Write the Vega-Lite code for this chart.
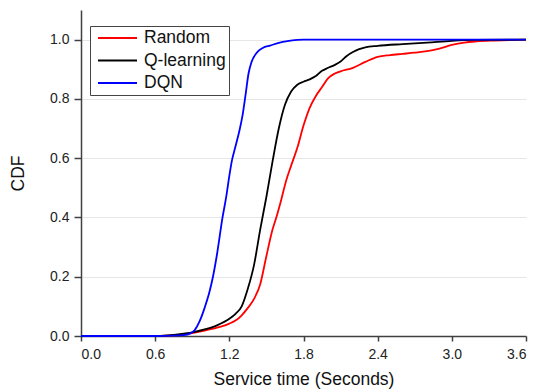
{
  "$schema": "https://vega.github.io/schema/vega-lite/v6.json",
  "autosize": {"type": "none"},
  "padding": {"left": 81, "top": 10, "right": 10, "bottom": 55},
  "width": 445,
  "height": 326,
  "background": "white",
  "config": {
    "view": {"stroke": null},
    "font": "Liberation Sans"
  },
  "data": {
    "values": [
      {"t": 0, "cdf": 0, "method": "Random"},
      {"t": 0.6, "cdf": 0, "method": "Random"},
      {"t": 0.7, "cdf": 0.001, "method": "Random"},
      {"t": 0.8, "cdf": 0.004, "method": "Random"},
      {"t": 0.9, "cdf": 0.01, "method": "Random"},
      {"t": 1.0, "cdf": 0.018, "method": "Random"},
      {"t": 1.1, "cdf": 0.028, "method": "Random"},
      {"t": 1.2, "cdf": 0.042, "method": "Random"},
      {"t": 1.25, "cdf": 0.052, "method": "Random"},
      {"t": 1.3, "cdf": 0.07, "method": "Random"},
      {"t": 1.35, "cdf": 0.095, "method": "Random"},
      {"t": 1.4, "cdf": 0.125, "method": "Random"},
      {"t": 1.45, "cdf": 0.175, "method": "Random"},
      {"t": 1.5, "cdf": 0.27, "method": "Random"},
      {"t": 1.55, "cdf": 0.36, "method": "Random"},
      {"t": 1.58, "cdf": 0.4, "method": "Random"},
      {"t": 1.62, "cdf": 0.46, "method": "Random"},
      {"t": 1.66, "cdf": 0.525, "method": "Random"},
      {"t": 1.7, "cdf": 0.575, "method": "Random"},
      {"t": 1.75, "cdf": 0.635, "method": "Random"},
      {"t": 1.8, "cdf": 0.71, "method": "Random"},
      {"t": 1.85, "cdf": 0.77, "method": "Random"},
      {"t": 1.9, "cdf": 0.81, "method": "Random"},
      {"t": 1.95, "cdf": 0.84, "method": "Random"},
      {"t": 2.0, "cdf": 0.87, "method": "Random"},
      {"t": 2.05, "cdf": 0.885, "method": "Random"},
      {"t": 2.1, "cdf": 0.893, "method": "Random"},
      {"t": 2.2, "cdf": 0.905, "method": "Random"},
      {"t": 2.3, "cdf": 0.925, "method": "Random"},
      {"t": 2.4, "cdf": 0.942, "method": "Random"},
      {"t": 2.5, "cdf": 0.948, "method": "Random"},
      {"t": 2.6, "cdf": 0.952, "method": "Random"},
      {"t": 2.7, "cdf": 0.956, "method": "Random"},
      {"t": 2.8, "cdf": 0.961, "method": "Random"},
      {"t": 2.9, "cdf": 0.97, "method": "Random"},
      {"t": 3.0, "cdf": 0.982, "method": "Random"},
      {"t": 3.1, "cdf": 0.99, "method": "Random"},
      {"t": 3.2, "cdf": 0.994, "method": "Random"},
      {"t": 3.35, "cdf": 0.997, "method": "Random"},
      {"t": 3.6, "cdf": 1.0, "method": "Random"},

      {"t": 0, "cdf": 0, "method": "Q-learning"},
      {"t": 0.6, "cdf": 0, "method": "Q-learning"},
      {"t": 0.7, "cdf": 0.002, "method": "Q-learning"},
      {"t": 0.8, "cdf": 0.006, "method": "Q-learning"},
      {"t": 0.9, "cdf": 0.012, "method": "Q-learning"},
      {"t": 1.0, "cdf": 0.022, "method": "Q-learning"},
      {"t": 1.1, "cdf": 0.036, "method": "Q-learning"},
      {"t": 1.2, "cdf": 0.058, "method": "Q-learning"},
      {"t": 1.25, "cdf": 0.075, "method": "Q-learning"},
      {"t": 1.3, "cdf": 0.1, "method": "Q-learning"},
      {"t": 1.35, "cdf": 0.16, "method": "Q-learning"},
      {"t": 1.4, "cdf": 0.24, "method": "Q-learning"},
      {"t": 1.45, "cdf": 0.36, "method": "Q-learning"},
      {"t": 1.5, "cdf": 0.47, "method": "Q-learning"},
      {"t": 1.55, "cdf": 0.59, "method": "Q-learning"},
      {"t": 1.6, "cdf": 0.7, "method": "Q-learning"},
      {"t": 1.65, "cdf": 0.78, "method": "Q-learning"},
      {"t": 1.7, "cdf": 0.825, "method": "Q-learning"},
      {"t": 1.75, "cdf": 0.848, "method": "Q-learning"},
      {"t": 1.8, "cdf": 0.858, "method": "Q-learning"},
      {"t": 1.85, "cdf": 0.866, "method": "Q-learning"},
      {"t": 1.9, "cdf": 0.877, "method": "Q-learning"},
      {"t": 1.95, "cdf": 0.895, "method": "Q-learning"},
      {"t": 2.0, "cdf": 0.905, "method": "Q-learning"},
      {"t": 2.05, "cdf": 0.914, "method": "Q-learning"},
      {"t": 2.1, "cdf": 0.926, "method": "Q-learning"},
      {"t": 2.15, "cdf": 0.945, "method": "Q-learning"},
      {"t": 2.2, "cdf": 0.958, "method": "Q-learning"},
      {"t": 2.25, "cdf": 0.968, "method": "Q-learning"},
      {"t": 2.3, "cdf": 0.974, "method": "Q-learning"},
      {"t": 2.4, "cdf": 0.979, "method": "Q-learning"},
      {"t": 2.6, "cdf": 0.985, "method": "Q-learning"},
      {"t": 2.8, "cdf": 0.99, "method": "Q-learning"},
      {"t": 3.0, "cdf": 0.996, "method": "Q-learning"},
      {"t": 3.2, "cdf": 0.999, "method": "Q-learning"},
      {"t": 3.6, "cdf": 1.0, "method": "Q-learning"},

      {"t": 0, "cdf": 0, "method": "DQN"},
      {"t": 0.6, "cdf": 0, "method": "DQN"},
      {"t": 0.75, "cdf": 0.001, "method": "DQN"},
      {"t": 0.83, "cdf": 0.003, "method": "DQN"},
      {"t": 0.88, "cdf": 0.008, "method": "DQN"},
      {"t": 0.92, "cdf": 0.02, "method": "DQN"},
      {"t": 0.96, "cdf": 0.05, "method": "DQN"},
      {"t": 1.0, "cdf": 0.095, "method": "DQN"},
      {"t": 1.04, "cdf": 0.15, "method": "DQN"},
      {"t": 1.07, "cdf": 0.205, "method": "DQN"},
      {"t": 1.1, "cdf": 0.275, "method": "DQN"},
      {"t": 1.145, "cdf": 0.4, "method": "DQN"},
      {"t": 1.175, "cdf": 0.47, "method": "DQN"},
      {"t": 1.2, "cdf": 0.54, "method": "DQN"},
      {"t": 1.22, "cdf": 0.59, "method": "DQN"},
      {"t": 1.25, "cdf": 0.64, "method": "DQN"},
      {"t": 1.28, "cdf": 0.69, "method": "DQN"},
      {"t": 1.305, "cdf": 0.74, "method": "DQN"},
      {"t": 1.33, "cdf": 0.81, "method": "DQN"},
      {"t": 1.355, "cdf": 0.885, "method": "DQN"},
      {"t": 1.38, "cdf": 0.925, "method": "DQN"},
      {"t": 1.42, "cdf": 0.955, "method": "DQN"},
      {"t": 1.47, "cdf": 0.972, "method": "DQN"},
      {"t": 1.53, "cdf": 0.98, "method": "DQN"},
      {"t": 1.6, "cdf": 0.989, "method": "DQN"},
      {"t": 1.67, "cdf": 0.995, "method": "DQN"},
      {"t": 1.75, "cdf": 0.999, "method": "DQN"},
      {"t": 1.8, "cdf": 1.0, "method": "DQN"},
      {"t": 3.6, "cdf": 1.0, "method": "DQN"}
    ]
  },
  "mark": {"type": "line", "interpolate": "monotone", "strokeWidth": 1.8},
  "encoding": {
    "x": {
      "field": "t",
      "type": "quantitative",
      "scale": {"domain": [0, 3.6], "nice": false, "zero": false},
      "axis": {
        "title": "Service time (Seconds)",
        "values": [0, 0.6, 1.2, 1.8, 2.4, 3.0, 3.6],
        "format": ".1f",
        "grid": false,
        "domainColor": "#404040",
        "domainWidth": 1.5,
        "tickColor": "#404040",
        "tickWidth": 1.5,
        "tickSize": 5,
        "labelPadding": 6,
        "labelFontSize": 14,
        "labelColor": "#222222",
        "labelFont": "Liberation Sans",
        "titleFont": "Liberation Sans",
        "titleFontSize": 17.5,
        "titleFontWeight": "normal",
        "titleColor": "#111111",
        "titlePadding": 9
      }
    },
    "y": {
      "field": "cdf",
      "type": "quantitative",
      "scale": {"domain": [0, 1.1], "nice": false},
      "axis": {
        "title": "CDF",
        "values": [0, 0.2, 0.4, 0.6, 0.8, 1.0],
        "format": ".1f",
        "grid": true,
        "gridColor": "#e6e6e6",
        "gridWidth": 1.2,
        "domainColor": "#404040",
        "domainWidth": 1.5,
        "tickColor": "#404040",
        "tickWidth": 1.5,
        "tickSize": 7,
        "labelPadding": 5,
        "labelFontSize": 14,
        "labelColor": "#222222",
        "labelFont": "Liberation Sans",
        "titleFont": "Liberation Sans",
        "titleFontSize": 17.5,
        "titleFontWeight": "normal",
        "titleColor": "#111111",
        "titlePadding": 22
      }
    },
    "color": {
      "field": "method",
      "type": "nominal",
      "scale": {"domain": ["Random", "Q-learning", "DQN"], "range": ["#ff0000", "#000000", "#0000ff"]},
      "legend": {
        "title": null,
        "orient": "none",
        "legendX": 9,
        "legendY": 16,
        "symbolType": "stroke",
        "symbolSize": 1521,
        "symbolStrokeWidth": 1.8,
        "symbolOffset": 4,
        "clipHeight": 18,
        "labelFontSize": 17.5,
        "labelFont": "Liberation Sans",
        "labelColor": "#111111",
        "labelOffset": 6,
        "rowPadding": 4.5,
        "padding": 3,
        "strokeColor": "#444444",
        "fillColor": "white"
      }
    }
  }
}
